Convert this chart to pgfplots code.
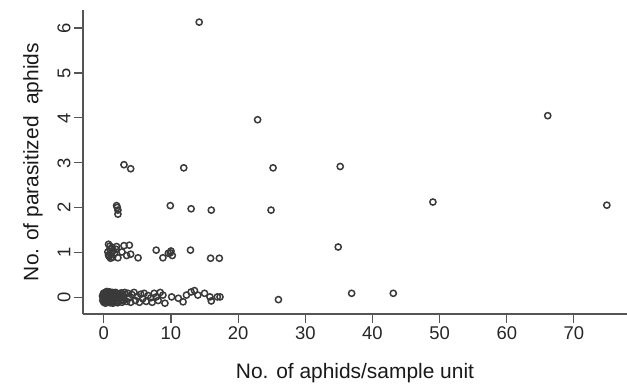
\documentclass[border=0pt]{standalone}
\usepackage{pgfplots}
\pgfplotsset{compat=1.18}
\usepackage{fontspec}
\setmainfont{Liberation Sans}
\definecolor{ptc}{HTML}{3A3A3A}
\definecolor{axc}{HTML}{555555}
\begin{document}
\begin{tikzpicture}
\begin{axis}[
  scale only axis, width=544bp, height=304bp,
  xmin=-3.1, xmax=77.9, ymin=-0.36, ymax=6.4,
  axis x line=bottom, axis y line=left,
  axis line style={-, draw=axc, line width=1.1bp},
  tick align=outside, major tick length=9bp,
  tick style={draw=axc, line width=1.1bp},
  xtick={0,10,...,70}, ytick={0,1,...,6},
  /pgf/number format/assume math mode=true,
  ticklabel style={font=\fontsize{18.5}{20}\selectfont, text=black!85},
  yticklabel style={rotate=90, anchor=south},
  xlabel={No. of aphids/sample unit},
  ylabel={No. of parasitized\ \ aphids},
  label style={font=\fontsize{21}{24}\selectfont, text=black!90},
  xlabel style={at={(axis description cs:0.5,-0.194)}, anchor=center},
  ylabel style={at={(axis description cs:-0.092,0.5)}, anchor=center},
]
\coordinate (O) at (rel axis cs:0,0);
\coordinate (T) at (rel axis cs:1,1);
\addplot[only marks, mark=o, mark size=3.1bp, mark options={draw=ptc, line width=1.5bp}] table {
x y
14.2 6.13
22.9 3.96
66.1 4.05
3.0 2.96
4.0 2.87
11.9 2.89
25.2 2.89
35.2 2.92
49.0 2.13
74.9 2.06
1.9 2.05
2.0 2.01
2.1 1.95
2.1 1.86
9.9 2.05
13.0 1.98
16.0 1.95
24.9 1.95
34.9 1.13
0.7 1.19
0.9 1.08
1.0 0.88
1.6 0.99
1.9 1.14
2.1 0.89
0.8 0.92
1.2 1.12
0.6 1.02
1.4 1.05
0.7 0.95
1.1 1.00
1.3 0.90
0.9 1.15
1.8 1.08
3.0 1.16
3.8 1.17
2.7 1.02
3.4 0.94
4.0 0.97
5.1 0.89
7.8 1.06
8.8 0.89
9.6 0.99
10.0 1.04
10.2 0.94
9.9 1.00
12.9 1.06
15.9 0.88
17.2 0.88
17.3 0.02
26.0 -0.04
36.9 0.10
43.1 0.10
8.8 0.06
9.1 -0.12
10.1 0.02
11.1 -0.01
11.8 -0.09
12.3 0.06
13.0 0.13
13.5 0.16
14.0 0.06
15.0 0.10
15.8 0.02
16.0 -0.07
16.9 0.02
0.0 0.05
0.1 -0.08
0.2 0.10
-0.1 0.00
0.3 -0.03
0.2 0.12
0.0 -0.10
0.4 0.07
0.1 0.02
0.5 -0.06
0.3 0.09
-0.2 0.04
0.6 0.00
0.7 -0.10
0.8 0.10
0.9 0.03
1.0 -0.05
1.1 0.08
1.2 -0.09
1.3 0.12
1.4 0.00
1.5 -0.04
1.6 0.06
1.8 -0.10
1.9 0.10
2.0 0.02
2.1 -0.07
2.3 0.09
2.4 -0.02
2.6 0.11
2.7 -0.10
2.9 0.04
3.0 -0.05
3.2 0.08
3.4 -0.08
3.6 0.10
3.8 0.00
4.0 -0.10
4.2 0.07
4.5 0.12
4.7 -0.06
5.0 0.03
5.3 -0.10
5.5 0.08
5.8 -0.02
6.0 0.10
6.3 -0.08
6.6 0.05
7.0 0.00
7.2 -0.10
7.5 0.10
7.8 0.02
8.1 -0.06
8.4 0.12
0.05 -0.04
0.15 0.07
0.25 -0.12
0.35 0.03
0.45 0.14
0.55 -0.09
0.65 0.06
0.75 -0.02
0.85 0.13
0.95 -0.11
1.05 0.05
1.15 -0.02
1.25 0.09
1.35 -0.12
1.45 0.11
1.55 -0.07
1.65 0.01
1.75 0.12
1.85 -0.03
1.95 0.07
2.05 -0.11
2.2 0.04
2.5 0.06
2.8 -0.06
3.1 0.12
-0.05 0.10
-0.15 -0.06
0.5 0.11
1.0 0.12
1.5 0.09
};
\end{axis}
\pgfresetboundingbox
\path[use as bounding box] ([shift={(-83bp,-73bp)}]O) rectangle ([shift={(0bp,10bp)}]T);
\end{tikzpicture}
\end{document}
